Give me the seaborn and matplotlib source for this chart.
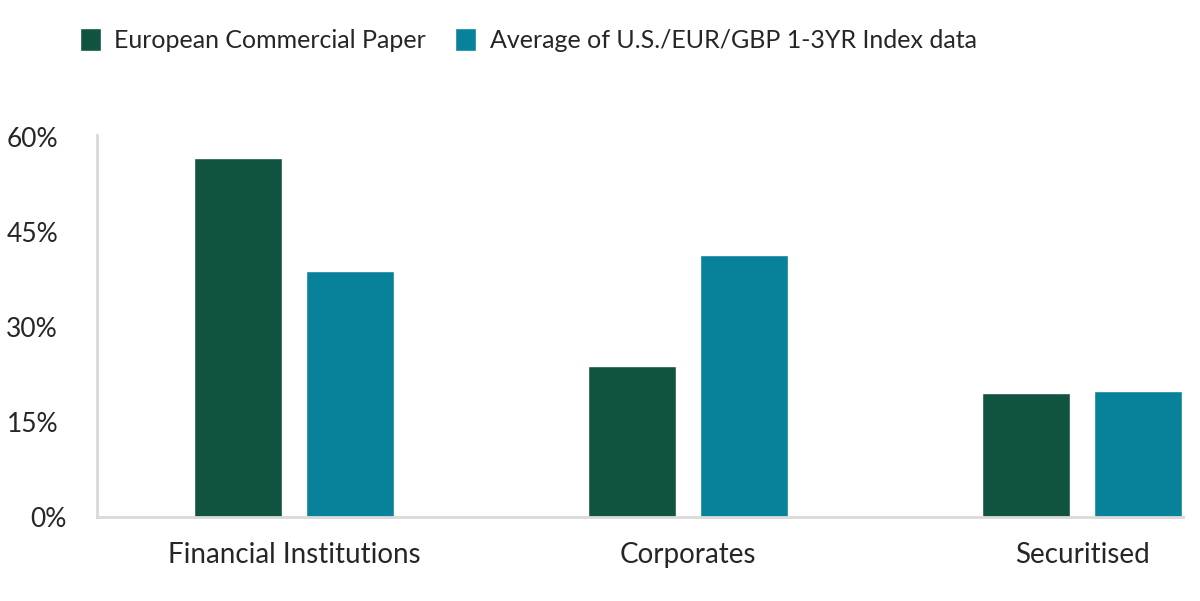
import pandas as pd
import numpy as np
import matplotlib
matplotlib.use("Agg")
import matplotlib.pyplot as plt
import matplotlib.transforms as mtransforms
import seaborn as sns

categories = ["Financial Institutions", "Corporates", "Securitised"]
series = ["European Commercial Paper", "Average of U.S./EUR/GBP 1-3YR Index data"]
ecp = [56.7, 23.8, 19.6]
index_avg = [38.8, 41.4, 19.9]
yticks = [0, 15, 30, 45, 60]

df = pd.DataFrame({
    "Sector": categories * 2,
    "Series": [series[0]] * 3 + [series[1]] * 3,
    "Share": ecp + index_avg,
})

sns.set_style("white")
plt.rcParams["font.family"] = ["Lato", "DejaVu Sans"]

fig = plt.figure(figsize=(12, 6.01), dpi=100)
ax = fig.add_axes([97 / 1200, 84 / 601, (1183 - 97) / 1200, (517 - 135) / 601])

sns.barplot(data=df, x="Sector", y="Share", hue="Series",
            palette=["#115341", "#08829a"], width=0.568, gap=0.214,
            saturation=1, ax=ax, legend=True)

ax.set_xlim(-0.5, 2.256)
ax.set_ylim(0, 60.3)
ax.set_yticks(yticks)
ax.set_yticklabels([f"{t}%" for t in yticks])
ax.set_xlabel("")
ax.set_ylabel("")
ax.tick_params(axis="y", length=0, pad=28, labelsize=19)
ax.tick_params(axis="x", length=0, pad=18, labelsize=20)

# the 0% label sits a little further right in the original
lab0 = ax.get_yticklabels()[0]
lab0.set_transform(lab0.get_transform() +
                   mtransforms.ScaledTranslation(9 / 100, 0, fig.dpi_scale_trans))

for s in ["top", "right"]:
    ax.spines[s].set_visible(False)
for s in ["left", "bottom"]:
    ax.spines[s].set_color("#d9d9d9")
    ax.spines[s].set_linewidth(2)

handles, labels = ax.get_legend_handles_labels()
ax.legend(handles, labels, loc="center left", bbox_to_anchor=(80 / 1200, 1 - 40 / 601),
          bbox_transform=fig.transFigure, ncol=2, frameon=False,
          fontsize=18, handlelength=0.83, handleheight=1.04,
          columnspacing=1.15, handletextpad=0.55, borderpad=0, borderaxespad=0)

fig.savefig("out.png", dpi=100)
